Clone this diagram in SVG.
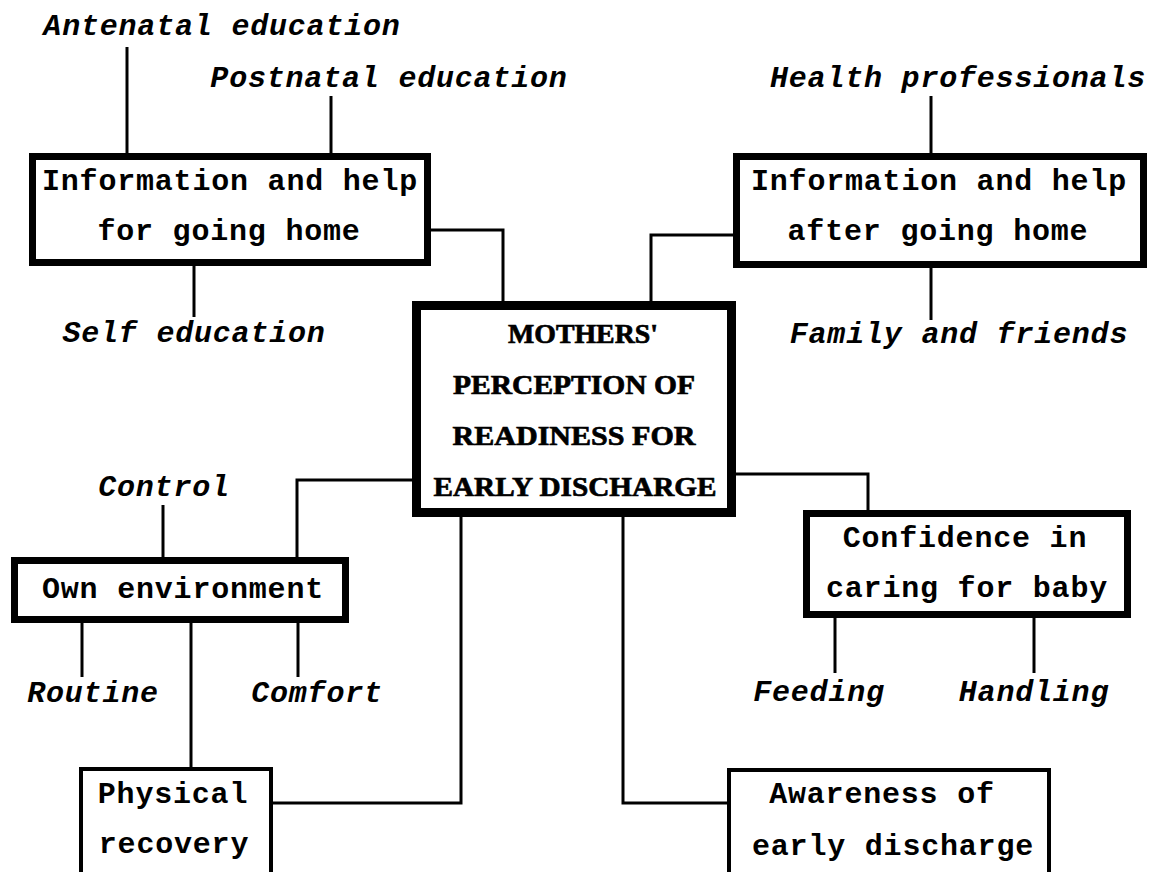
<svg xmlns="http://www.w3.org/2000/svg" width="1152" height="872" viewBox="0 0 1152 872">
<style>
  .bg { fill: #ffffff; }
  .box { fill: #ffffff; stroke: #000; stroke-width: 7; }
  .core { fill: #ffffff; stroke: #000; stroke-width: 9; }
  .open { fill: none; stroke: #000; stroke-width: 4; }
  .conn line, .conn path { fill: none; stroke: #000; stroke-width: 3; }
  text { font-family: "Liberation Mono", "Courier New", monospace; font-size: 30px; letter-spacing: 0.8px; fill: #000; text-anchor: middle; }
  .lbl { font-weight: bold; }
  .it { font-style: italic; font-weight: bold; }
  .title { font-family: "Liberation Serif", "Times New Roman", serif; font-weight: bold; font-size: 28px; letter-spacing: 0; stroke: #000; stroke-width: 0.7; }
</style>
<rect class="bg" x="0" y="0" width="1152" height="872"/>
<g id="connectors" class="conn">
  <line x1="127" y1="47" x2="127" y2="153"/>
  <line x1="331" y1="96" x2="331" y2="153"/>
  <line x1="194" y1="266" x2="194" y2="317"/>
  <path d="M431,230 H503 V301"/>
  <line x1="931" y1="96" x2="931" y2="153"/>
  <line x1="931" y1="268" x2="931" y2="320"/>
  <path d="M733,235 H651 V301"/>
  <line x1="163" y1="505" x2="163" y2="557"/>
  <path d="M412,480 H297 V557"/>
  <line x1="82" y1="623" x2="82" y2="677"/>
  <line x1="298" y1="623" x2="298" y2="677"/>
  <line x1="191" y1="623" x2="191" y2="767"/>
  <path d="M273,803 H461 V517"/>
  <path d="M736,474 H868 V510"/>
  <line x1="835" y1="618" x2="835" y2="673"/>
  <line x1="1034" y1="618" x2="1034" y2="673"/>
  <path d="M623,517 V803 H727"/>
</g>
<g id="antenatal"><text class="it" x="222" y="35">Antenatal education</text></g>
<g id="postnatal"><text class="it" x="389" y="87">Postnatal education</text></g>
<g id="info-going-home">
  <rect class="box" x="32.5" y="156.5" width="395" height="106"/>
  <text class="lbl" x="230" y="190">Information and help</text>
  <text class="lbl" x="229" y="240">for going home</text>
</g>
<g id="self-education"><text class="it" x="194" y="342">Self education</text></g>
<g id="health-professionals"><text class="it" x="958" y="87">Health professionals</text></g>
<g id="info-after-home">
  <rect class="box" x="736.5" y="156.5" width="407" height="108"/>
  <text class="lbl" x="939" y="190">Information and help</text>
  <text class="lbl" x="938" y="240">after going home</text>
</g>
<g id="family-friends"><text class="it" x="959" y="343">Family and friends</text></g>
<g id="mothers-perception">
  <rect class="core" x="416.5" y="305.5" width="315" height="207"/>
  <text class="title" x="583" y="343" textLength="150" lengthAdjust="spacingAndGlyphs">MOTHERS'</text>
  <text class="title" x="574" y="394" textLength="242" lengthAdjust="spacingAndGlyphs">PERCEPTION OF</text>
  <text class="title" x="574" y="445" textLength="243" lengthAdjust="spacingAndGlyphs">READINESS FOR</text>
  <text class="title" x="575" y="496" textLength="283" lengthAdjust="spacingAndGlyphs">EARLY DISCHARGE</text>
</g>
<g id="control"><text class="it" x="164" y="496">Control</text></g>
<g id="own-environment">
  <rect class="box" x="14.5" y="560.5" width="331" height="59"/>
  <text class="lbl" x="183" y="598">Own environment</text>
</g>
<g id="routine"><text class="it" x="93" y="702">Routine</text></g>
<g id="comfort"><text class="it" x="317" y="702">Comfort</text></g>
<g id="physical-recovery">
  <path class="open" d="M81,872 V769 H271 V872"/>
  <text class="lbl" x="173" y="803">Physical</text>
  <text class="lbl" x="174" y="853">recovery</text>
</g>
<g id="confidence">
  <rect class="box" x="806.5" y="513.5" width="321" height="101"/>
  <text class="lbl" x="965" y="547">Confidence in</text>
  <text class="lbl" x="967" y="597">caring for baby</text>
</g>
<g id="feeding"><text class="it" x="819" y="701">Feeding</text></g>
<g id="handling"><text class="it" x="1034" y="701">Handling</text></g>
<g id="awareness">
  <path class="open" d="M729,872 V770 H1049 V872"/>
  <text class="lbl" x="882" y="803">Awareness of</text>
  <text class="lbl" x="893" y="855">early discharge</text>
</g>
</svg>
